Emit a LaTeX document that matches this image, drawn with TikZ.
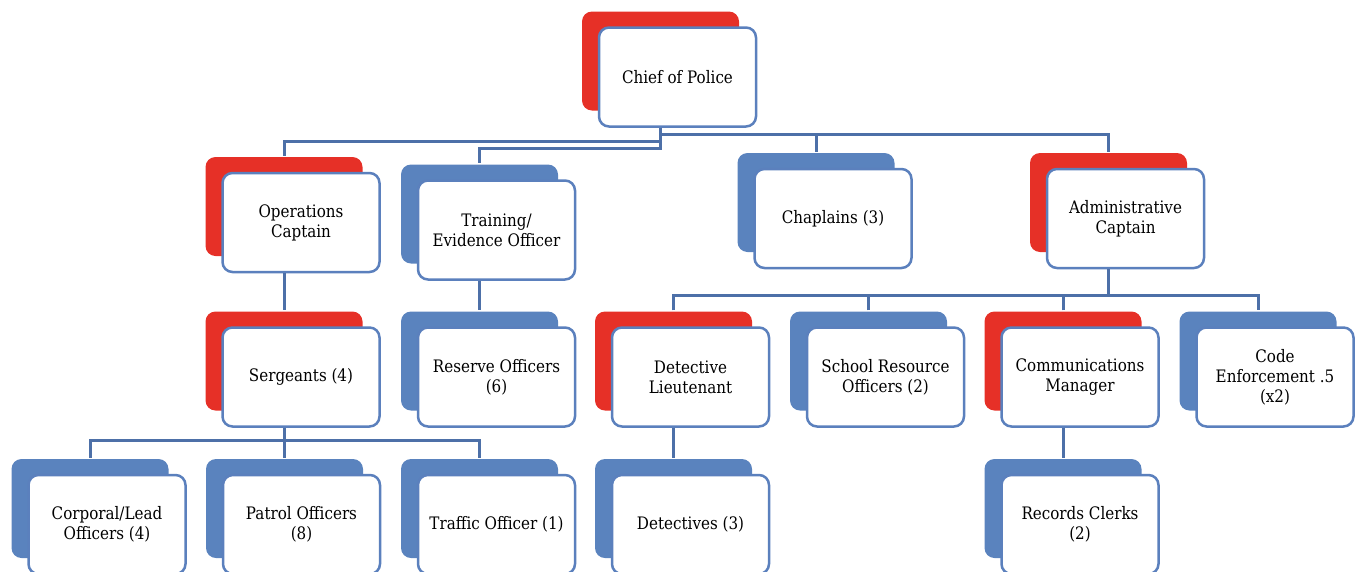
\documentclass[tikz,border=0pt]{standalone}
\usepackage{fontspec}
\setmainfont{DejaVu Serif}[FakeStretch=0.88]
\usetikzlibrary{shadows}

\definecolor{redshade}{HTML}{E63027}
\definecolor{blueshade}{HTML}{5A83BE}
\definecolor{boxline}{HTML}{5B80BD}
\definecolor{linkline}{HTML}{4D70A8}

\tikzset{
  post/.style={draw=boxline, line width=2.5pt, fill=white, rounded corners=10pt,
    minimum width=157pt, minimum height=99pt, align=center,
    font=\fontsize{17.2}{20}\selectfont},
  lead/.style={post, general shadow={fill=redshade, shadow xshift=-17pt, shadow yshift=16pt}},
  staff/.style={post, general shadow={fill=blueshade, shadow xshift=-17pt, shadow yshift=16pt}},
  link/.style={draw=linkline, line width=3pt}
}

\begin{document}
\begin{tikzpicture}[x=1pt, y=-1pt]
  \useasboundingbox (0,0) rectangle (1363,571);

  % top
  \node[lead] (chief) at (677.5,77) {Chief of Police};

  % captains and first row
  \node[lead]  (ops)   at (301,222.5)   {Operations\\Captain};
  \node[staff] (train) at (496.5,230)   {Training/\\Evidence Officer};
  \node[staff] (chap)  at (833,218.5)   {Chaplains (3)};
  \node[lead]  (admin) at (1125.5,218.5) {Administrative\\Captain};

  % second row
  \node[lead]  (sgt)     at (301,377)    {Sergeants (4)};
  \node[staff] (reserve) at (496.5,377)  {Reserve Officers\\(6)};
  \node[lead]  (detlt)   at (690.5,377)  {Detective\\Lieutenant};
  \node[staff] (sro)     at (885.5,377)  {School Resource\\Officers (2)};
  \node[lead]  (comm)    at (1080,377)   {Communications\\Manager};
  \node[staff] (code)    at (1275,377)   {Code\\Enforcement .5\\(x2)};

  % bottom row
  \node[staff] (corp)    at (107,524.5)   {Corporal/Lead\\Officers (4)};
  \node[staff] (patrol)  at (301.5,524.5) {Patrol Officers\\(8)};
  \node[staff] (traffic) at (496.5,524.5) {Traffic Officer (1)};
  \node[staff] (dets)    at (690.5,524.5) {Detectives (3)};
  \node[staff] (clerks)  at (1080,524.5)  {Records Clerks\\(2)};

  % attach points over the shadow
  \foreach \n in {chief,ops,train,chap,admin,sgt,reserve,detlt,sro,comm,code,corp,patrol,traffic,dets,clerks} {
    \coordinate (\n T) at ([xshift=-17pt,yshift=16pt]\n.north);
    \coordinate (\n B) at ([xshift=-17pt]\n.south);
  }

  % lines from the chief
  \draw[link] (chiefB) -- ++(0,7) coordinate (hubA) -| (adminT);
  \draw[link] (chiefB) -- ++(0,14) -| (opsT);
  \draw[link] (chiefB) -- ++(0,21) -| (trainT);
  \draw[link] (chapT) -- (chapT |- hubA);

  % lines below the captains
  \draw[link] (opsB) -- (sgtT);
  \draw[link] (trainB) -- (reserveT);
  \draw[link] (adminB) -- ++(0,26) coordinate (hubB);
  \draw[link] (detltT) |- (hubB) -| (codeT);
  \draw[link] (sroT) -- (sroT |- hubB);
  \draw[link] (commT) -- (commT |- hubB);

  % lines below the second row
  \draw[link] (sgtB) -- ++(0,13) coordinate (hubC);
  \draw[link] (corpT) |- (hubC) -| (trafficT);
  \draw[link] (patrolT) -- (patrolT |- hubC);
  \draw[link] (detltB) -- (detsT);
  \draw[link] (commB) -- (clerksT);
\end{tikzpicture}
\end{document}
